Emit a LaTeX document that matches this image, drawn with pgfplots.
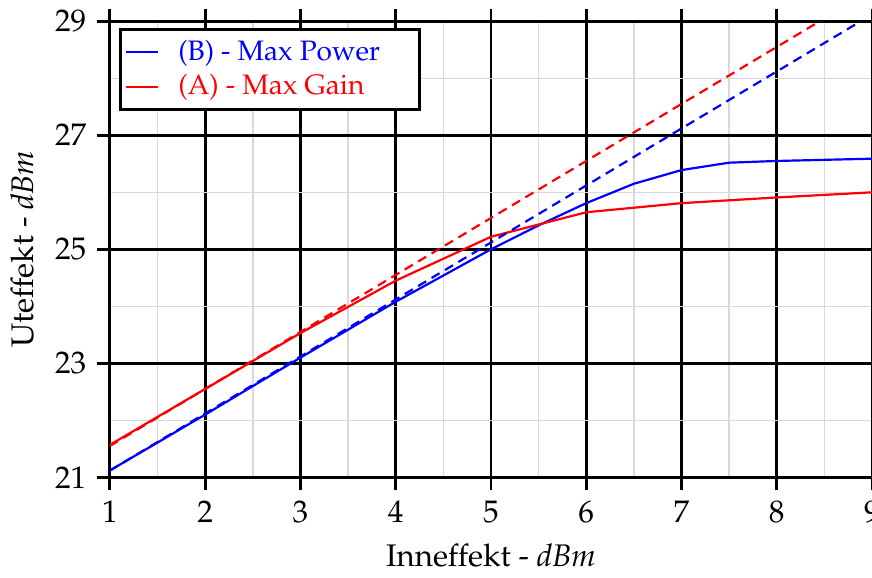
\documentclass[border=0pt]{standalone}
\usepackage[T1]{fontenc}
\usepackage{mathpazo}
\usepackage{pgfplots}
\pgfplotsset{compat=1.18}
\begin{document}
\begin{tikzpicture}[trim axis right]
\begin{axis}[
    scale only axis, width=244pt, height=146pt,
    xmin=1, xmax=9, ymin=21, ymax=29,
    xtick={1,...,9}, ytick={21,23,...,29},
    minor xtick={1.5,2.5,...,8.5}, minor ytick={22,24,26,28},
    grid=both,
    major grid style={black, line width=0.9pt},
    minor grid style={black!15, line width=0.5pt},
    axis line style={black, line width=0.9pt},
    tick style={black, line width=0.9pt},
    major tick length=4pt, minor tick length=0pt,
    tick align=outside, tick pos=both,
    xlabel={Inneffekt - \textit{dBm}},
    ylabel={Uteffekt - \textit{dBm}},
    legend cell align=left,
    legend style={at={(0.012,0.985)}, anchor=north west, draw=black,
        line width=0.9pt, inner sep=1.3pt, row sep=-1pt, font=\small},
    legend image code/.code={\draw[#1, line width=0.7pt] (0pt,0pt) -- (0.36cm,0pt);},
]
% (B) Max Power
\addplot[blue, line width=0.7pt] coordinates {
    (1,21.12) (2,22.10) (3,23.10) (4,24.08) (5,25.00) (5.5,25.42) (6,25.81)
    (6.5,26.15) (7,26.39) (7.5,26.52) (8,26.55) (9,26.59)};
\addlegendentry[text=blue]{\hspace{0.15cm}(B) - Max Power\rule{0.33cm}{0pt}}
% (A) Max Gain
\addplot[red, line width=0.7pt] coordinates {
    (1,21.57) (2,22.55) (3,23.53) (4,24.45) (5,25.22) (6,25.65)
    (7,25.81) (8,25.91) (9,26.00)};
\addlegendentry[text=red]{\hspace{0.15cm}(A) - Max Gain}
% linear extrapolations
\addplot[blue, line width=0.7pt, dash pattern=on 3pt off 2pt, forget plot]
    coordinates {(1,21.12) (9,29.12)};
\addplot[red, line width=0.7pt, dash pattern=on 3pt off 2pt, forget plot]
    coordinates {(1,21.55) (9,29.55)};
\end{axis}
\end{tikzpicture}
\end{document}
